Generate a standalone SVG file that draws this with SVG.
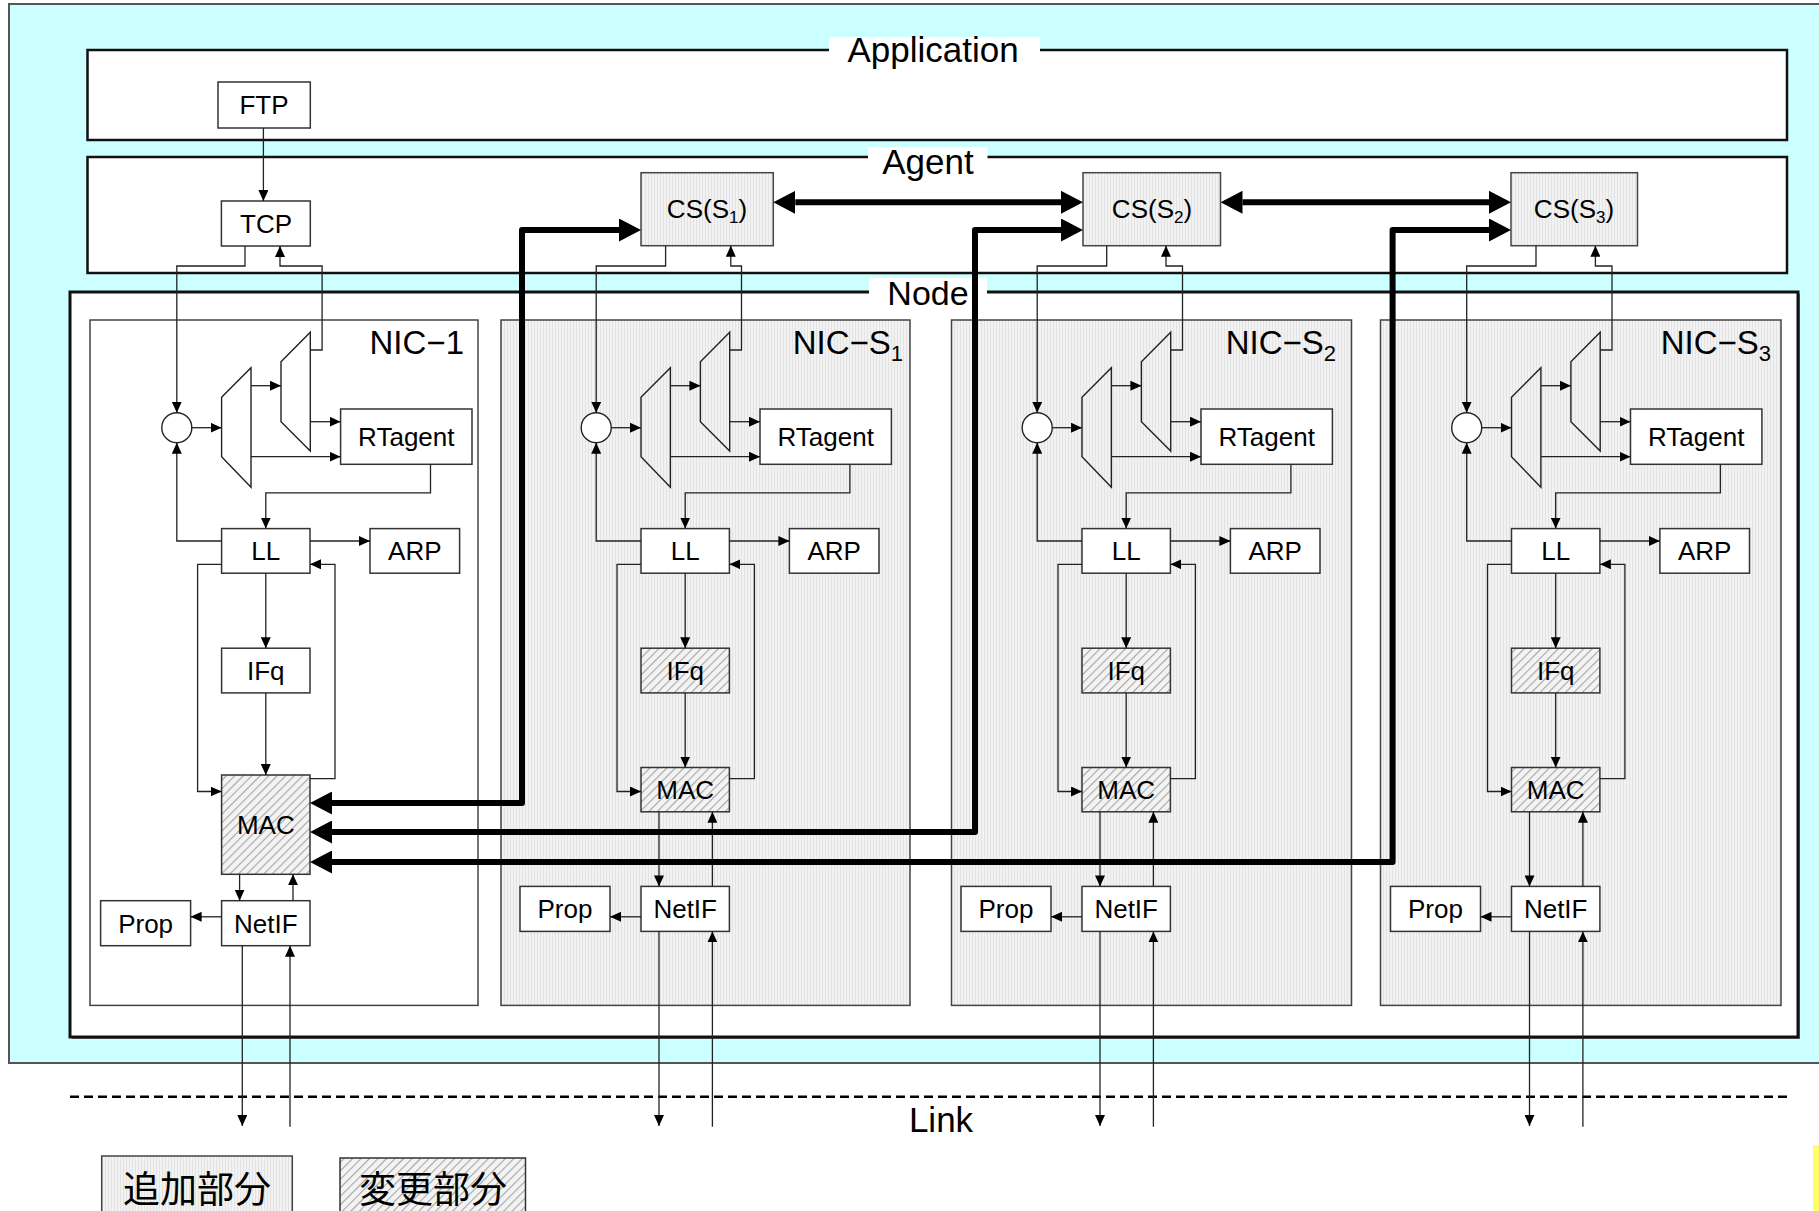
<svg xmlns="http://www.w3.org/2000/svg" width="1819" height="1211" viewBox="0 0 1819 1211">
<defs>
<style>
.b{fill:#fff;stroke:#333;stroke-width:1.5}
.g{fill:url(#gr);stroke:#444;stroke-width:1.5}
.h{fill:url(#hatch);stroke:#333;stroke-width:1.5}
.d{fill:none;stroke:#222;stroke-width:1.4}
.ci{fill:#fff;stroke:#222;stroke-width:1.4}
.t{font-family:"Liberation Sans",Arial,sans-serif;font-size:26px;text-anchor:middle;fill:#000}
.L{font-family:"Liberation Sans",Arial,sans-serif;font-size:35px;text-anchor:middle;fill:#000}
.N{font-family:"Liberation Sans",Arial,sans-serif;font-size:33px;text-anchor:end;fill:#000}
.j{font-family:"Liberation Sans","Noto Sans CJK JP",sans-serif;font-size:37px;text-anchor:middle;fill:#000}
.c{fill:none;stroke:#222;stroke-width:1.3;marker-end:url(#a)}
.k{fill:none;stroke:#000;stroke-width:6;stroke-linejoin:round;marker-start:url(#A);marker-end:url(#A)}
.lay{fill:#fff;stroke:#111;stroke-width:2.5}
</style>
<pattern id="gr" width="3" height="10" patternUnits="userSpaceOnUse"><rect width="3" height="10" fill="#F2F2F2"/><rect width="1" height="10" fill="#E3E3E3"/></pattern>
<pattern id="hatch" width="6" height="6" patternUnits="userSpaceOnUse" patternTransform="rotate(45)"><rect width="6" height="6" fill="#F3F3F3"/><rect width="1.1" height="6" fill="#A5A5A5"/></pattern>
<marker id="a" markerWidth="11" markerHeight="10" refX="11" refY="5" orient="auto" markerUnits="userSpaceOnUse"><path d="M0,0 L11,5 L0,10 z" fill="#000"/></marker>
<marker id="A" markerWidth="22" markerHeight="23" refX="0" refY="11.5" orient="auto-start-reverse" markerUnits="userSpaceOnUse"><path d="M0,0 L22,11.5 L0,23 z" fill="#000"/></marker>
</defs>

<g id="background">
<rect x="9" y="4" width="1830" height="1059" fill="#CCFFFF" stroke="#555" stroke-width="2"/>
<rect x="1813" y="1145" width="6" height="66" fill="#FFFF66"/>
</g>

<g id="layer-application">
<rect class="lay" x="87.5" y="50" width="1699.5" height="90"/>
<rect x="829" y="37" width="211" height="26" fill="#fff"/>
<text class="L" x="933" y="61.5">Application</text>
</g>
<g id="layer-agent">
<rect class="lay" x="87.5" y="157" width="1699.5" height="116"/>
<rect x="868" y="147" width="119.5" height="27" fill="#fff"/>
<text class="L" x="928" y="174">Agent</text>
</g>
<g id="layer-node">
<rect x="72" y="294" width="1728" height="745" fill="#777"/>
<rect x="70" y="292" width="1728" height="745" fill="#fff" stroke="#111" stroke-width="3"/>
<rect x="869" y="278" width="118" height="24" fill="#fff"/>
<text class="L" x="928" y="305" style="font-size:34px">Node</text>
</g>

<g id="nic-1"><rect x="90" y="320" width="388" height="685.4" fill="#fff" stroke="#444" stroke-width="1.5"/><text class="N" x="464" y="354">NIC−1</text></g>
<g id="nic-s1"><rect class="g" x="501" y="320" width="409" height="685.4"/><text class="N" x="903" y="354">NIC−S<tspan dy="7" style="font-size:22px">1</tspan></text></g>
<g id="nic-s2"><rect class="g" x="951.5" y="320" width="400" height="685.4"/><text class="N" x="1336" y="354">NIC−S<tspan dy="7" style="font-size:22px">2</tspan></text></g>
<g id="nic-s3"><rect class="g" x="1380.5" y="320" width="400.5" height="685.4"/><text class="N" x="1771" y="354">NIC−S<tspan dy="7" style="font-size:22px">3</tspan></text></g>

<g id="ftp"><rect class="b" x="218" y="82" width="92.3" height="46"/><text class="t" x="264" y="114">FTP</text></g>
<g id="tcp"><rect class="b" x="221.4" y="201" width="88.9" height="45"/><text class="t" x="266" y="233">TCP</text></g>
<g id="cs-s1"><rect class="g" x="641" y="172.7" width="132.3" height="73"/><text class="t" x="707" y="218">CS(S<tspan dy="5" style="font-size:17px">1</tspan><tspan dy="-5">)</tspan></text></g>
<g id="cs-s2"><rect class="g" x="1083" y="172.7" width="137.5" height="73"/><text class="t" x="1152" y="218">CS(S<tspan dy="5" style="font-size:17px">2</tspan><tspan dy="-5">)</tspan></text></g>
<g id="cs-s3"><rect class="g" x="1511" y="172.7" width="126.5" height="73"/><text class="t" x="1574" y="218">CS(S<tspan dy="5" style="font-size:17px">3</tspan><tspan dy="-5">)</tspan></text></g>

<!-- NIC-1 nodes (L=221.6) -->
<g id="n1-sum"><circle class="ci" cx="176.8" cy="427.7" r="15"/></g>
<g id="n1-demux1"><polygon class="d" points="221.6,397.3 251,367.7 251,487.3 221.6,456.7"/></g>
<g id="n1-demux2"><polygon class="d" points="281,361.7 310.3,332.3 310.3,451 281,421.7"/></g>
<g id="n1-rtagent"><rect class="b" x="340.6" y="409" width="131.4" height="55.3"/><text class="t" x="406.3" y="446">RTagent</text></g>
<g id="n1-ll"><rect class="b" x="221.6" y="528.6" width="88.4" height="44.6"/><text class="t" x="265.8" y="560.2">LL</text></g>
<g id="n1-arp"><rect class="b" x="370" y="528.6" width="89.6" height="44.6"/><text class="t" x="414.8" y="560.2">ARP</text></g>
<g id="n1-ifq"><rect class="b" x="221.6" y="648.2" width="88.4" height="44.7"/><text class="t" x="265.8" y="679.8">IFq</text></g>
<g id="n1-mac"><rect class="h" x="221.6" y="775" width="88.4" height="99.3"/><text class="t" x="265.8" y="834">MAC</text></g>
<g id="n1-netif"><rect class="b" x="221.6" y="900.7" width="88.4" height="45"/><text class="t" x="265.8" y="932.5">NetIF</text></g>
<g id="n1-prop"><rect class="b" x="100.6" y="900.7" width="90" height="45"/><text class="t" x="145.6" y="932.5">Prop</text></g>

<!-- NIC-S1 nodes (L=641) -->
<g id="s1-sum"><circle class="ci" cx="596.2" cy="427.7" r="15"/></g>
<g id="s1-demux1"><polygon class="d" points="641,397.3 670.4,367.7 670.4,487.3 641,456.7"/></g>
<g id="s1-demux2"><polygon class="d" points="700.4,361.7 729.7,332.3 729.7,451 700.4,421.7"/></g>
<g id="s1-rtagent"><rect class="b" x="760" y="409" width="131.4" height="55.3"/><text class="t" x="825.7" y="446">RTagent</text></g>
<g id="s1-ll"><rect class="b" x="641" y="528.6" width="88.4" height="44.6"/><text class="t" x="685.2" y="560.2">LL</text></g>
<g id="s1-arp"><rect class="b" x="789.4" y="528.6" width="89.6" height="44.6"/><text class="t" x="834.2" y="560.2">ARP</text></g>
<g id="s1-ifq"><rect class="h" x="641" y="648.2" width="88.4" height="44.7"/><text class="t" x="685.2" y="679.8">IFq</text></g>
<g id="s1-mac"><rect class="h" x="641" y="767.5" width="88.4" height="44.3"/><text class="t" x="685.2" y="799">MAC</text></g>
<g id="s1-netif"><rect class="b" x="641" y="886.4" width="88.4" height="45"/><text class="t" x="685.2" y="918.2">NetIF</text></g>
<g id="s1-prop"><rect class="b" x="520" y="886.4" width="90" height="45"/><text class="t" x="565" y="918.2">Prop</text></g>

<!-- NIC-S2 nodes (L=1082) -->
<g id="s2-sum"><circle class="ci" cx="1037.2" cy="427.7" r="15"/></g>
<g id="s2-demux1"><polygon class="d" points="1082,397.3 1111.4,367.7 1111.4,487.3 1082,456.7"/></g>
<g id="s2-demux2"><polygon class="d" points="1141.4,361.7 1170.7,332.3 1170.7,451 1141.4,421.7"/></g>
<g id="s2-rtagent"><rect class="b" x="1201" y="409" width="131.4" height="55.3"/><text class="t" x="1266.7" y="446">RTagent</text></g>
<g id="s2-ll"><rect class="b" x="1082" y="528.6" width="88.4" height="44.6"/><text class="t" x="1126.2" y="560.2">LL</text></g>
<g id="s2-arp"><rect class="b" x="1230.4" y="528.6" width="89.6" height="44.6"/><text class="t" x="1275.2" y="560.2">ARP</text></g>
<g id="s2-ifq"><rect class="h" x="1082" y="648.2" width="88.4" height="44.7"/><text class="t" x="1126.2" y="679.8">IFq</text></g>
<g id="s2-mac"><rect class="h" x="1082" y="767.5" width="88.4" height="44.3"/><text class="t" x="1126.2" y="799">MAC</text></g>
<g id="s2-netif"><rect class="b" x="1082" y="886.4" width="88.4" height="45"/><text class="t" x="1126.2" y="918.2">NetIF</text></g>
<g id="s2-prop"><rect class="b" x="961" y="886.4" width="90" height="45"/><text class="t" x="1006" y="918.2">Prop</text></g>

<!-- NIC-S3 nodes (L=1511.5) -->
<g id="s3-sum"><circle class="ci" cx="1466.7" cy="427.7" r="15"/></g>
<g id="s3-demux1"><polygon class="d" points="1511.5,397.3 1540.9,367.7 1540.9,487.3 1511.5,456.7"/></g>
<g id="s3-demux2"><polygon class="d" points="1570.9,361.7 1600.2,332.3 1600.2,451 1570.9,421.7"/></g>
<g id="s3-rtagent"><rect class="b" x="1630.5" y="409" width="131.4" height="55.3"/><text class="t" x="1696.2" y="446">RTagent</text></g>
<g id="s3-ll"><rect class="b" x="1511.5" y="528.6" width="88.4" height="44.6"/><text class="t" x="1555.7" y="560.2">LL</text></g>
<g id="s3-arp"><rect class="b" x="1659.9" y="528.6" width="89.6" height="44.6"/><text class="t" x="1704.7" y="560.2">ARP</text></g>
<g id="s3-ifq"><rect class="h" x="1511.5" y="648.2" width="88.4" height="44.7"/><text class="t" x="1555.7" y="679.8">IFq</text></g>
<g id="s3-mac"><rect class="h" x="1511.5" y="767.5" width="88.4" height="44.3"/><text class="t" x="1555.7" y="799">MAC</text></g>
<g id="s3-netif"><rect class="b" x="1511.5" y="886.4" width="88.4" height="45"/><text class="t" x="1555.7" y="918.2">NetIF</text></g>
<g id="s3-prop"><rect class="b" x="1390.5" y="886.4" width="90" height="45"/><text class="t" x="1435.5" y="918.2">Prop</text></g>

<g id="link">
<line x1="70" y1="1096.7" x2="1792" y2="1096.7" stroke="#000" stroke-width="2.5" stroke-dasharray="9 5"/>
<text class="L" x="941" y="1131.5">Link</text>
</g>

<g id="legend-added"><rect class="g" x="101.7" y="1156" width="190.6" height="70"/><text class="j" x="197" y="1203">追加部分</text></g>
<g id="legend-changed"><rect class="h" x="340" y="1158" width="185.5" height="70"/><text class="j" x="433" y="1203">変更部分</text></g>

<g id="connectors">
<path class="c" d="M263.4,128 V201"/>
<path class="c" d="M245,246 V266 H176.8 V412.7"/>
<path class="c" d="M310.3,350 H322.1 V266 H280 V246"/>
<path class="c" d="M665.6,245.7 V266 H596.2 V412.7"/>
<path class="c" d="M729.7,350 H741.5 V266 H730.8 V245.7"/>
<path class="c" d="M1106.7,245.7 V266 H1037.2 V412.7"/>
<path class="c" d="M1170.7,350 H1182.5 V266 H1166 V245.7"/>
<path class="c" d="M1536,245.7 V266 H1466.7 V412.7"/>
<path class="c" d="M1600.2,350 H1612 V266 H1595.4 V245.7"/>

<path class="c" d="M191.8,427.7 H221.6"/>
<path class="c" d="M251,385.7 H281"/>
<path class="c" d="M310.3,421.7 H340.6"/>
<path class="c" d="M251,456.7 H340.6"/>
<path class="c" d="M430.5,464.3 V492.9 H265.8 V528.6"/>
<path class="c" d="M221.6,541 H176.8 V442.7"/>
<path class="c" d="M310,541 H370"/>
<path class="c" d="M265.8,573.2 V648.2"/>
<path class="c" d="M265.8,692.9 V775"/>
<path class="c" d="M221.6,564.3 H197.6 V791.5 H221.6"/>
<path class="c" d="M310,778.6 H335 V564.3 H310"/>
<path class="c" d="M239.6,874.3 V900.7"/>
<path class="c" d="M293,900.7 V874.3"/>
<path class="c" d="M221.6,916.8 H190.6"/>
<path class="c" d="M242.3,945.7 V1126"/>
<path class="c" d="M290,1126.7 V945.7"/>

<path class="c" d="M611.2,427.7 H641"/>
<path class="c" d="M670.4,385.7 H700.4"/>
<path class="c" d="M729.7,421.7 H760"/>
<path class="c" d="M670.4,456.7 H760"/>
<path class="c" d="M849.9,464.3 V492.9 H685.2 V528.6"/>
<path class="c" d="M641,541 H596.2 V442.7"/>
<path class="c" d="M729.4,541 H789.4"/>
<path class="c" d="M685.2,573.2 V648.2"/>
<path class="c" d="M685.2,692.9 V767.5"/>
<path class="c" d="M641,564.3 H617 V791.5 H641"/>
<path class="c" d="M729.4,778.6 H754.4 V564.3 H729.4"/>
<path class="c" d="M659,811.8 V886.4"/>
<path class="c" d="M712.4,886.4 V811.8"/>
<path class="c" d="M641,916.8 H610"/>
<path class="c" d="M659,931.4 V1126"/>
<path class="c" d="M712.4,1126.7 V931.4"/>

<path class="c" d="M1052.2,427.7 H1082"/>
<path class="c" d="M1111.4,385.7 H1141.4"/>
<path class="c" d="M1170.7,421.7 H1201"/>
<path class="c" d="M1111.4,456.7 H1201"/>
<path class="c" d="M1290.9,464.3 V492.9 H1126.2 V528.6"/>
<path class="c" d="M1082,541 H1037.2 V442.7"/>
<path class="c" d="M1170.4,541 H1230.4"/>
<path class="c" d="M1126.2,573.2 V648.2"/>
<path class="c" d="M1126.2,692.9 V767.5"/>
<path class="c" d="M1082,564.3 H1058 V791.5 H1082"/>
<path class="c" d="M1170.4,778.6 H1195.4 V564.3 H1170.4"/>
<path class="c" d="M1100,811.8 V886.4"/>
<path class="c" d="M1153.4,886.4 V811.8"/>
<path class="c" d="M1082,916.8 H1051"/>
<path class="c" d="M1100,931.4 V1126"/>
<path class="c" d="M1153.4,1126.7 V931.4"/>

<path class="c" d="M1481.7,427.7 H1511.5"/>
<path class="c" d="M1540.9,385.7 H1570.9"/>
<path class="c" d="M1600.2,421.7 H1630.5"/>
<path class="c" d="M1540.9,456.7 H1630.5"/>
<path class="c" d="M1720.4,464.3 V492.9 H1555.7 V528.6"/>
<path class="c" d="M1511.5,541 H1466.7 V442.7"/>
<path class="c" d="M1599.9,541 H1659.9"/>
<path class="c" d="M1555.7,573.2 V648.2"/>
<path class="c" d="M1555.7,692.9 V767.5"/>
<path class="c" d="M1511.5,564.3 H1487.5 V791.5 H1511.5"/>
<path class="c" d="M1599.9,778.6 H1624.9 V564.3 H1599.9"/>
<path class="c" d="M1529.5,811.8 V886.4"/>
<path class="c" d="M1582.9,886.4 V811.8"/>
<path class="c" d="M1511.5,916.8 H1480.5"/>
<path class="c" d="M1529.5,931.4 V1126"/>
<path class="c" d="M1582.9,1126.7 V931.4"/>

<path class="k" d="M795.3,202.3 H1061"/>
<path class="k" d="M1242.5,202.3 H1489"/>
<path class="k" d="M332,803 H522 V230 H619"/>
<path class="k" d="M332,832 H975 V230 H1061"/>
<path class="k" d="M332,862 H1392.6 V230 H1489"/>
</g>
</svg>
